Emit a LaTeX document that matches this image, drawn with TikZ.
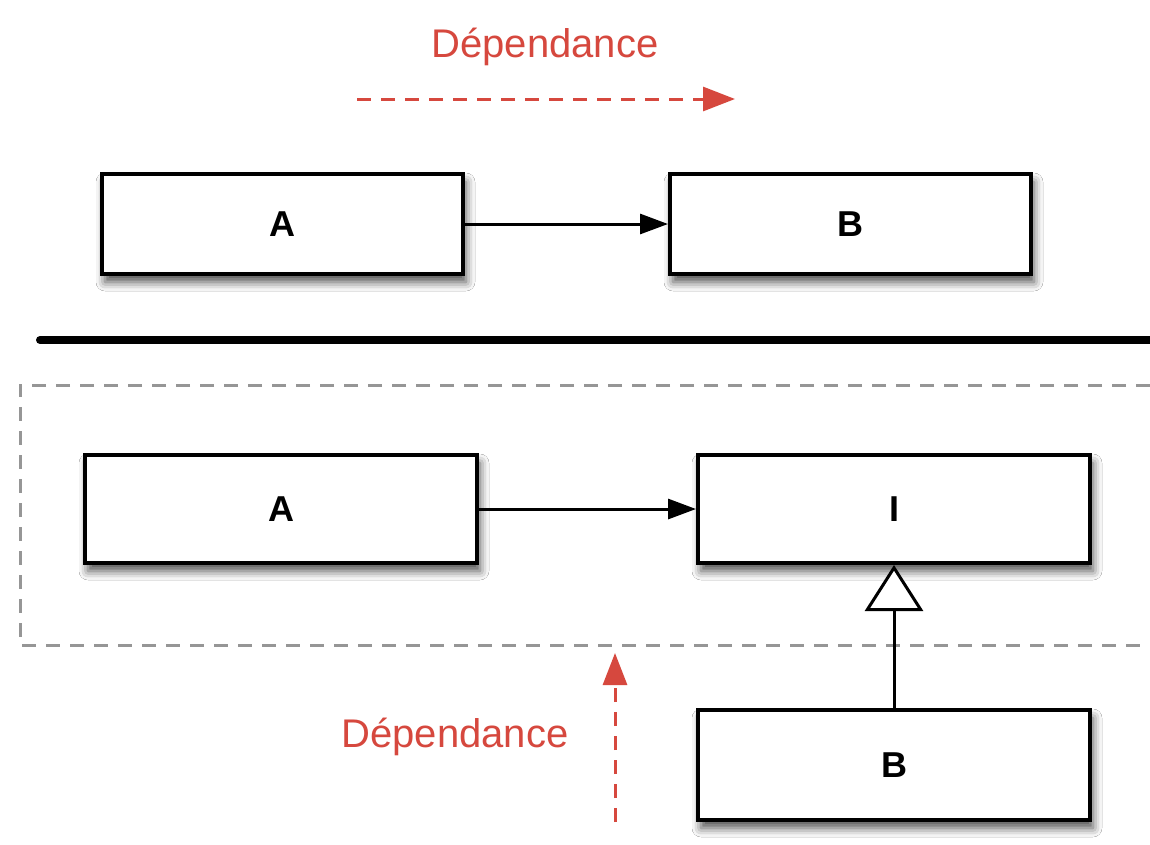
\documentclass[tikz,border=0pt]{standalone}
\usepackage{fontspec}
\setmainfont{Liberation Sans}
\usetikzlibrary{arrows.meta,shadows.blur}
\definecolor{depred}{RGB}{214,72,62}
\definecolor{dashgray}{RGB}{150,150,150}
\tikzset{
  cls/.style={draw=black, line width=4pt, fill=white, font=\fontsize{36}{40}\selectfont\bfseries,
    blur shadow={shadow xshift=3pt, shadow yshift=-8pt, shadow blur radius=9pt, shadow opacity=70}},
  assoc/.style={line width=3pt, -{Triangle[length=28pt,width=20pt]}},
  inherit/.style={line width=3pt, -{Triangle[open,length=46pt,width=58pt,fill=white]}},
  dep/.style={depred, line width=3pt, dash pattern=on 14pt off 10pt, -{Triangle[length=32pt,width=24pt]}},
  deplabel/.style={text=depred, font=\fontsize{40}{44}\selectfont},
  frame/.style={dashgray, line width=3pt, dash pattern=on 14pt off 10pt},
}
\begin{document}
\begin{tikzpicture}[x=1pt,y=-1pt]
\useasboundingbox (0,0) rectangle (1150,844);
\fill[white] (0,0) rectangle (1150,844);
% top part
\node[deplabel] (dl1) at (545,47) {Dépendance};
\coordinate (d1s) at (357,99);
\coordinate (d1e) at (735,99);
\draw[dep] (d1s) -- (d1e);
\node[cls, minimum width=361pt, minimum height=100pt] (A1) at (282.5,224) {A};
\node[cls, minimum width=361pt, minimum height=100pt] (B1) at (850.5,224) {B};
\draw[assoc] (A1) -- (B1);
% separator
\coordinate (s1) at (40,340);
\coordinate (s2) at (1150,340);
\draw[line width=8pt, line cap=round] (s1) -- (s2);
% dashed frame
\coordinate (f1) at (1150,385);
\coordinate (f2) at (20,385);
\coordinate (f3) at (20,645);
\coordinate (f4) at (1150,645);
\draw[frame] (f1) -- (f2) -- (f3) -- (f4);
% bottom part
\node[cls, minimum width=392pt, minimum height=108pt] (A2) at (281,509) {A};
\node[cls, minimum width=392pt, minimum height=108pt] (I) at (894,509) {I};
\node[cls, minimum width=392pt, minimum height=110pt] (B2) at (894,765) {B};
\draw[assoc] (A2) -- (I);
\draw[inherit] (B2.north) -- (I.south);
\coordinate (d2s) at (615,822);
\coordinate (d2e) at (615,653);
\draw[dep] (d2s) -- (d2e);
\node[deplabel] (dl2) at (455,737) {Dépendance};
\end{tikzpicture}
\end{document}
